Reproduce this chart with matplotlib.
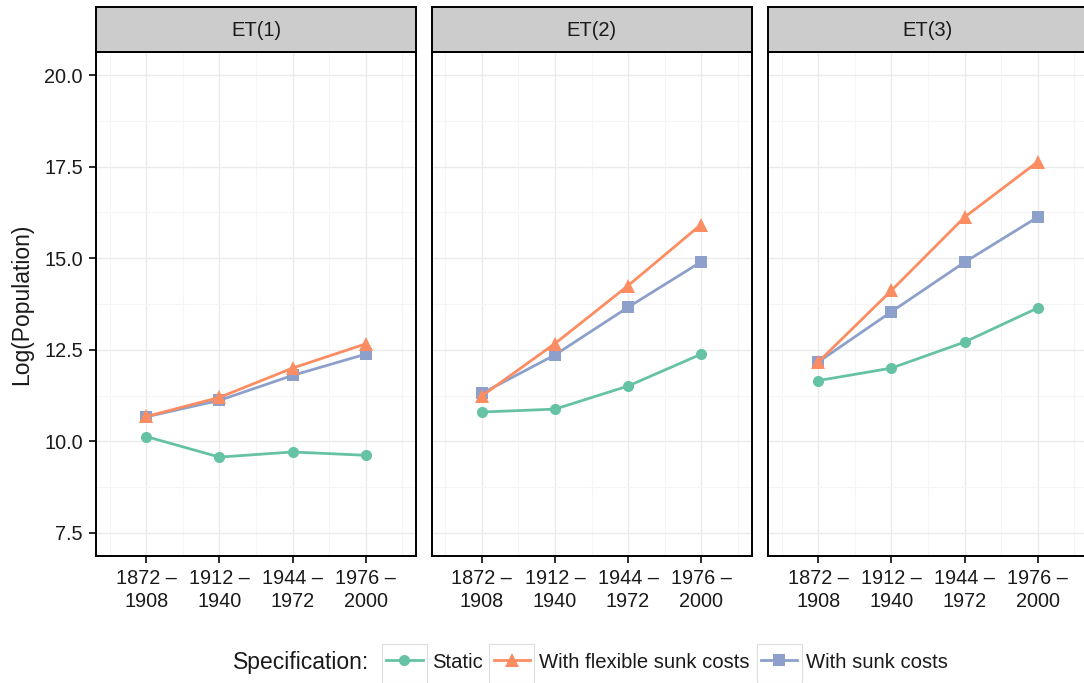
import numpy as np
import matplotlib
matplotlib.use('Agg')
import matplotlib.pyplot as plt
from matplotlib.patches import Rectangle

plt.rcParams['font.family'] = ['Liberation Sans', 'DejaVu Sans']

# ─── Data ─────────────────────────────────────────────────────────────────────
periods = ["1872 –\n1908", "1912 –\n1940", "1944 –\n1972", "1976 –\n2000"]
panels = ["ET(1)", "ET(2)", "ET(3)"]

static = [[10.13, 9.57, 9.71, 9.62],
          [10.80, 10.88, 11.51, 12.38],
          [11.66, 12.00, 12.71, 13.64]]
flexible = [[10.68, 11.20, 12.00, 12.66],
            [11.24, 12.67, 14.25, 15.92],
            [12.17, 14.12, 16.12, 17.63]]
sunk = [[10.67, 11.12, 11.80, 12.38],
        [11.31, 12.36, 13.66, 14.90],
        [12.17, 13.54, 14.89, 16.12]]

series = [
    ("Static",                    static,   '#66C2A5', 'o', 8.0),
    ("With sunk costs",           sunk,     '#8DA0CB', 's', 8.0),
    ("With flexible sunk costs",  flexible, '#FC8D62', '^', 10.5),
]
legend_order = ["Static", "With flexible sunk costs", "With sunk costs"]

W, H = 1084, 683
fig = plt.figure(figsize=(W / 100, H / 100), dpi=100)

panel_left = [96, 431.5, 768]
panel_w = 320
panel_top, panel_bot = 52, 556
strip_top = 7
TXT = '#1A1A1A'

x = np.arange(len(periods))
handles = {}

for i, name in enumerate(panels):
    l = panel_left[i]
    ax = fig.add_axes([l / W, 1 - panel_bot / H, panel_w / W, (panel_bot - panel_top) / H])
    ax.set_xlim(-0.69, 3.69)
    ax.set_ylim(6.87, 20.63)

    # grid: major + minor
    ax.set_yticks([7.5, 10, 12.5, 15, 17.5, 20])
    ax.set_yticks([8.75, 11.25, 13.75, 16.25, 18.75], minor=True)
    ax.set_xticks(x)
    ax.set_xticks([-0.5, 0.5, 1.5, 2.5, 3.5], minor=True)
    ax.grid(which='major', color='#EBEBEB', lw=1.0, zorder=0)
    ax.grid(which='minor', color='#F5F5F5', lw=0.8, zorder=0)
    ax.set_axisbelow(True)

    for label, vals, color, mk, ms in series:
        ln, = ax.plot(x, vals[i], color=color, lw=2.0, marker=mk, ms=ms,
                      markeredgewidth=0, label=label, zorder=3)
        handles[label] = ln

    ax.set_xticklabels(periods, fontsize=14.3, color=TXT, linespacing=1.25)
    if i == 0:
        ax.set_yticklabels(['7.5', '10.0', '12.5', '15.0', '17.5', '20.0'],
                           fontsize=14.3, color=TXT)
        ax.set_ylabel("Log(Population)", fontsize=16.5, labelpad=8, color=TXT)
    else:
        ax.tick_params(axis='y', which='major', labelleft=False, left=False)
    ax.tick_params(which='major', length=5, width=1.3, color=TXT, pad=4.5)
    ax.tick_params(which='minor', length=0)
    for sp in ax.spines.values():
        sp.set_linewidth(1.4)
        sp.set_color('black')

    # facet strip
    sax = fig.add_axes([l / W, 1 - panel_top / H, panel_w / W, (panel_top - strip_top) / H])
    sax.set_facecolor('#CCCCCC')
    sax.set_xticks([])
    sax.set_yticks([])
    for sp in sax.spines.values():
        sp.set_linewidth(1.4)
        sp.set_color('black')
    sax.text(0.5, 0.47, name, ha='center', va='center', fontsize=14.5,
             color=TXT, transform=sax.transAxes)

# ─── Legend ───────────────────────────────────────────────────────────────────
fig.text(233 / W, 1 - 662 / H, "Specification:", fontsize=16.5, ha='left',
         va='center', color=TXT)
leg = fig.legend([handles[k] for k in legend_order], legend_order,
                 loc='center left', bbox_to_anchor=(386 / W, 1 - 662 / H),
                 ncol=3, frameon=False, fontsize=14.6, handlelength=1.8,
                 handletextpad=0.45, columnspacing=0.55, borderpad=0,
                 borderaxespad=0)
for t in leg.get_texts():
    t.set_color(TXT)

fig.canvas.draw()
renderer = fig.canvas.get_renderer()
for h in leg.legend_handles:
    bb = h.get_window_extent(renderer)
    cx = (bb.x0 + bb.x1) / 2
    fig.patches.append(Rectangle(((cx - 22.5) / W, 0), 45 / W, 39 / H,
                                 transform=fig.transFigure, facecolor='white',
                                 edgecolor='#DDDDDD', lw=0.8, zorder=-1))

fig.savefig('out.png', dpi=100)
